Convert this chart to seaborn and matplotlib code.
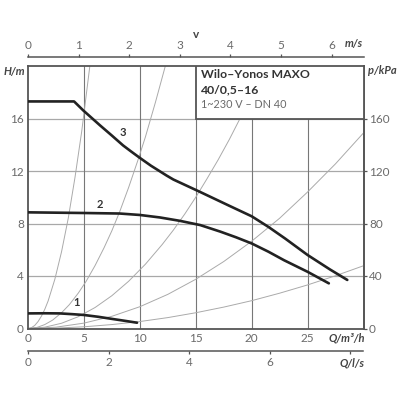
import matplotlib
matplotlib.use('Agg')
import matplotlib.pyplot as plt
from matplotlib.patches import Rectangle
import seaborn as sns

sns.set_style('white')
plt.rcParams['font.family'] = ['Lato', 'DejaVu Sans']

# ================= data =================
q_ticks = [0, 5, 10, 15, 20, 25]
h_ticks = [0, 4, 8, 12, 16]
p_ticks = [0, 40, 80, 120, 160]
v_ticks = [0, 1, 2, 3, 4, 5, 6]
ls_ticks = [0, 2, 4, 6, 8]
ls_labels = ['0', '2', '4', '6', '']

# pump curves, speed levels 1-3
q1 = [0, 1.5, 2.85, 4, 5, 6.3, 7.6, 8.7, 9.75]
h1 = [1.15, 1.16, 1.15, 1.09, 1.03, 0.89, 0.72, 0.58, 0.44]
q2 = [0, 5, 8.2, 10, 11.8, 13.6, 15.4, 17.2, 18.6, 20, 21.5, 22.9, 25, 26.9]
h2 = [8.85, 8.8, 8.76, 8.65, 8.46, 8.2, 7.88, 7.38, 6.95, 6.48, 5.85, 5.2, 4.32, 3.44]
q3 = [0, 4.12, 4.96, 6.45, 7.5, 8.5, 9.2, 10, 11, 12.4, 13, 15.4, 18, 20, 21.5, 23, 25, 27, 28.55]
h3 = [17.3, 17.3, 16.6, 15.47, 14.7, 13.95, 13.5, 13.0, 12.4, 11.65, 11.35, 10.4, 9.35, 8.55, 7.74, 6.85, 5.6, 4.5, 3.7]

# thin system curves, steepest first
sys_a_q = [0, 0.3, 0.6, 0.9, 1.2, 1.5, 1.8, 2.4, 3, 3.6, 4.2, 4.8, 5.53]
sys_a_h = [0, 0.06, 0.23, 0.53, 0.94, 1.46, 2.1, 3.75, 5.85, 8.4, 11.5, 15, 20]
sys_b_q = [0, 0.8, 1.5, 2.2, 3, 3.7, 4.5, 5.2, 6, 6.8, 7.5, 8.2, 9, 9.8, 10.5, 11.4, 12.28]
sys_b_h = [0, 0.08, 0.3, 0.64, 1.2, 1.82, 2.7, 3.6, 4.8, 6.15, 7.45, 8.9, 10.75, 12.75, 14.6, 17.25, 20]
sys_c_q = [0, 1.5, 3, 4.5, 6, 7.5, 9, 10.5, 12, 13, 14, 15, 16, 17, 18, 18.9]
sys_c_h = [0, 0.1, 0.4, 0.9, 1.6, 2.5, 3.6, 4.9, 6.4, 7.5, 8.7, 10, 11.4, 12.85, 14.4, 15.9]
sys_d_q = [0, 2.5, 5, 7.5, 10, 12.5, 15, 17.5, 20, 22.5, 25, 27.5, 30]
sys_d_h = [0, 0.1, 0.41, 0.93, 1.66, 2.6, 3.75, 5.1, 6.65, 8.4, 10.4, 12.55, 14.9]
sys_e_q = [0, 2.5, 5, 7.5, 10, 12.5, 15, 17.5, 20, 22.5, 25, 27.5, 30]
sys_e_h = [0, 0.03, 0.13, 0.3, 0.53, 0.83, 1.2, 1.63, 2.12, 2.69, 3.32, 4.02, 4.78]

DARK = '#555555'
TXT = '#6a6a6a'
GRID_V = '#777777'
GRID_H = '#a8a8a8'
THIN = '#aaaaaa'

fig = plt.figure(figsize=(4, 4), dpi=100)
ax = fig.add_axes([28 / 400, (400 - 328.5) / 400, 335.5 / 400, 262.5 / 400])

for y in h_ticks[1:]:
    ax.axhline(y, color=GRID_H, lw=0.9, zorder=1)
for x in q_ticks[1:]:
    ax.axvline(x, color=GRID_V, lw=0.8, zorder=1)

# ---- system curves ----
for qs, hs in [(sys_a_q, sys_a_h), (sys_b_q, sys_b_h), (sys_c_q, sys_c_h),
               (sys_d_q, sys_d_h), (sys_e_q, sys_e_h)]:
    sns.lineplot(x=qs, y=hs, ax=ax, color=THIN, lw=0.7, estimator=None, sort=False, zorder=2)

# ---- pump curves ----
for qs, hs in [(q1, h1), (q2, h2), (q3, h3)]:
    sns.lineplot(x=qs, y=hs, ax=ax, color='#222222', lw=1.9, estimator=None, sort=False, zorder=3)

# title box hides the grid in the upper right corner
ax.add_patch(Rectangle((15, 16), 15, 4, facecolor='white', edgecolor=DARK, lw=1.3, zorder=4))

ax.set_xlim(0, 30)
ax.set_ylim(0, 20)
ax.set_xticks(q_ticks)
ax.set_yticks(h_ticks)
ax.tick_params(axis='both', length=0, labelsize=8.5, labelcolor=TXT, pad=3)
for s in ax.spines.values():
    s.set_color(DARK)
    s.set_linewidth(1.3)

# ---- extra scales ----
top = ax.secondary_xaxis(1 + 9.3 / 262.5, functions=(lambda q: q / 4.525, lambda v: v * 4.525))
top.set_xticks(v_ticks)
bot = ax.secondary_xaxis(-22.5 / 262.5, functions=(lambda q: q / 3.6, lambda l: l * 3.6))
bot.set_xticks(ls_ticks)
bot.set_xticklabels(ls_labels)
right = ax.secondary_yaxis('right', functions=(lambda h: h * 10, lambda p: p / 10))
right.set_yticks(p_ticks)
for sec in (top, bot, right):
    sec.tick_params(length=2.5, width=0.9, color=DARK, labelsize=8.5, labelcolor=TXT, pad=1.5)
    for s in sec.spines.values():
        s.set_color(DARK)
        s.set_linewidth(1.1)

# ---- labels ----
def label(px, py, s, **kw):
    kw.setdefault('fontsize', 8)
    kw.setdefault('color', '#444444')
    kw.setdefault('ha', 'center')
    fig.text(px / 400, 1 - py / 400, s, va='center', **kw)

bi = dict(fontweight='bold', fontstyle='italic')
label(14, 71, 'H/m', **bi)
label(382, 71, 'p/kPa', **bi)
label(354, 44, 'm/s', **bi)
label(196, 34, 'v', fontweight='bold', fontsize=8.5)
label(347, 338, 'Q/m³/h', **bi)
label(352, 363, 'Q/l/s', **bi)

for qq, hh, s in [(4.35, 1.95, '1'), (6.4, 9.45, '2'), (8.5, 14.9, '3')]:
    ax.text(qq, hh, s, fontsize=8, fontweight='bold', color='#333333', ha='center', va='center', zorder=5)

label(201, 75, 'Wilo–Yonos MAXO', ha='left', fontweight='bold', fontsize=8.8, color='#333333')
label(201, 90, '40/0,5–16', ha='left', fontweight='bold', fontsize=8.8, color='#333333')
label(201, 105, '1~230 V – DN 40', ha='left', fontsize=7.8, color=TXT)

fig.savefig('out.png', dpi=100)
